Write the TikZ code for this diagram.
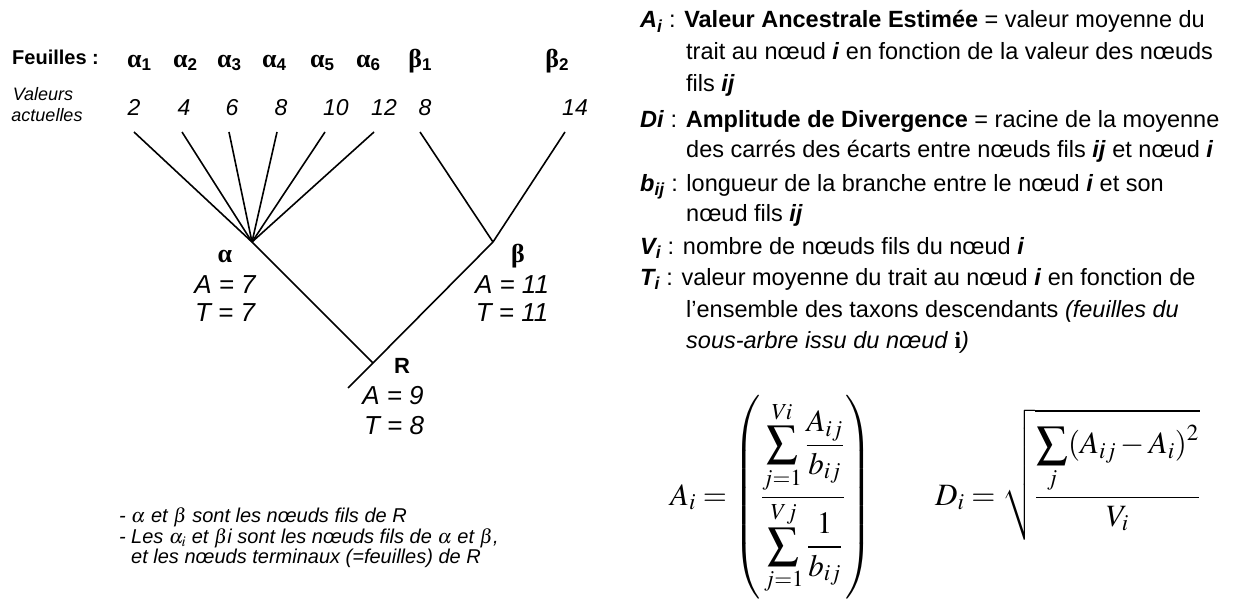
\documentclass[tikz,border=0pt]{standalone}
\usepackage{mathptmx}
\usepackage[no-math]{fontspec}
\setmainfont{Liberation Sans}
\newfontfamily\grfont{Liberation Serif}
\newcommand{\fsz}[1]{\fontsize{#1}{#1}\selectfont}
\newcommand{\leaf}[2]{{\fsz{26}\grfont\bfseries #1}\raisebox{-3pt}{\fsz{17}\bfseries #2}}
\begin{document}
\begin{tikzpicture}[x=1pt,y=-1pt,
  br/.style={line width=1.6pt},
  bs/.style={anchor=base, inner sep=0pt},
  bw/.style={anchor=base west, inner sep=0pt},
  num/.style={bs, font=\fsz{23}\itshape},
  val/.style={bs, font=\fsz{26}\itshape},
  rt/.style={bw, font=\fsz{23.5}},
  note/.style={bw, font=\fsz{20}\itshape}]
\useasboundingbox (0,0) rectangle (1240,599);
% header
\node[bw, font=\fsz{20}\bfseries] (feu) at (12,65) {Feuilles :};
\node[bs, font=\fsz{18}\itshape] (val1) at (43,101) {Valeurs};
\node[bs, font=\fsz{18}\itshape] (val2) at (47,122) {actuelles};
% leaf labels
\node[bs] (ga1) at (139,68) {\leaf{α}{1}};
\node[bs] (ga2) at (185,68) {\leaf{α}{2}};
\node[bs] (ga3) at (229,68) {\leaf{α}{3}};
\node[bs] (ga4) at (274,68) {\leaf{α}{4}};
\node[bs] (ga5) at (322,68) {\leaf{α}{5}};
\node[bs] (ga6) at (368,68) {\leaf{α}{6}};
\node[bs] (gb1) at (420,68) {\leaf{β}{1}};
\node[bs] (gb2) at (557,68) {\leaf{β}{2}};
% values
\node[num] (n1) at (134,116) {2};
\node[num] (n2) at (184,116) {4};
\node[num] (n3) at (232,116) {6};
\node[num] (n4) at (281,116) {8};
\node[num] (n5) at (336,116) {10};
\node[num] (n6) at (384,116) {12};
\node[num] (n7) at (425,116) {8};
\node[num] (n8) at (575,116) {14};
% tree
\coordinate (t1) at (134,132);
\coordinate (t2) at (182,132);
\coordinate (t3) at (229,132);
\coordinate (t4) at (277,132);
\coordinate (t5) at (325,132);
\coordinate (t6) at (374,132);
\coordinate (t7) at (420,132);
\coordinate (t8) at (565,132);
\coordinate (a) at (252,242);
\coordinate (b) at (493,242);
\coordinate (r) at (373,363);
\coordinate (rt) at (348,388);
\foreach \i in {1,...,6} {\draw[br] (t\i) -- (a);}
\draw[br] (t7) -- (b);
\draw[br] (t8) -- (b);
\draw[br] (a) -- (r);
\draw[br] (b) -- (r) -- (rt);
% node labels
\node[bs] (la) at (225,262) {\fsz{26}\grfont\bfseries α};
\node[val] (laA) at (225,293) {A = 7};
\node[val] (laT) at (225,321) {T = 7};
\node[bs] (lb) at (518,262) {\fsz{26}\grfont\bfseries β};
\node[val] (lbA) at (512,293) {A = 11};
\node[val] (lbT) at (512,321) {T = 11};
\node[bs, font=\fsz{22}\bfseries] (lr) at (402,373) {R};
\node[val] (lrA) at (393,404) {A = 9};
\node[val] (lrT) at (394,434) {T = 8};
% notes
\node[note] (d1) at (119,522) {-};
\node[note] (m1) at (131,522) {$\alpha$ et $\beta$ sont les nœuds fils de R};
\node[note] (d2) at (119,543) {-};
\node[note] (m2) at (131,543) {Les $\alpha_i$ et $\beta$i sont les nœuds fils de $\alpha$ et $\beta$,};
\node[note] (m3) at (131,563) {et les nœuds terminaux (=feuilles) de R};
% right column
\node[rt] (r1) at (640,28) {\textbf{\textit{A\textsubscript{i}}} : \textbf{Valeur Ancestrale Estimée} = valeur moyenne du};
\node[rt] (r2) at (686,60) {trait au nœud \textbf{\textit{i}} en fonction de la valeur des nœuds};
\node[rt] (r3) at (686,92) {fils \textbf{\textit{ij}}};
\node[rt] (r4) at (640,128) {\textbf{\textit{Di}} : \textbf{Amplitude de Divergence} = racine de la moyenne};
\node[rt] (r5) at (686,158) {des carrés des écarts entre nœuds fils \textbf{\textit{ij}} et nœud \textbf{\textit{i}}};
\node[rt] (r6) at (640,191) {\textbf{\textit{b\textsubscript{ij}}} : longueur de la branche entre le nœud \textbf{\textit{i}} et son};
\node[rt] (r7) at (686,221) {nœud fils \textbf{\textit{ij}}};
\node[rt] (r8) at (640,254) {\textbf{\textit{V\textsubscript{i}}} : nombre de nœuds fils du nœud \textbf{\textit{i}}};
\node[rt] (r9) at (640,285) {\textbf{\textit{T\textsubscript{i}}} : valeur moyenne du trait au nœud \textbf{\textit{i}} en fonction de};
\node[rt] (r10) at (686,317) {l’ensemble des taxons descendants \textit{(feuilles du}};
\node[rt] (r11) at (686,348) {\textit{sous-arbre issu du nœud} {\grfont\bfseries i}\textit{)}};
% formulas
\node[bw] (fa) at (670,505) {\fsz{31}$\displaystyle A_i = \left(\frac{\displaystyle\sum_{j=1}^{Vi}\frac{A_{ij}}{b_{ij}}}{\displaystyle\sum_{j=1}^{Vj}\frac{1}{b_{ij}}}\right)$};
\node[bw] (fd) at (935,505) {\fsz{31}$\displaystyle D_i = \sqrt{\frac{\displaystyle\sum_j (A_{ij}-A_i)^2}{V_i}}$};
\end{tikzpicture}
\end{document}
